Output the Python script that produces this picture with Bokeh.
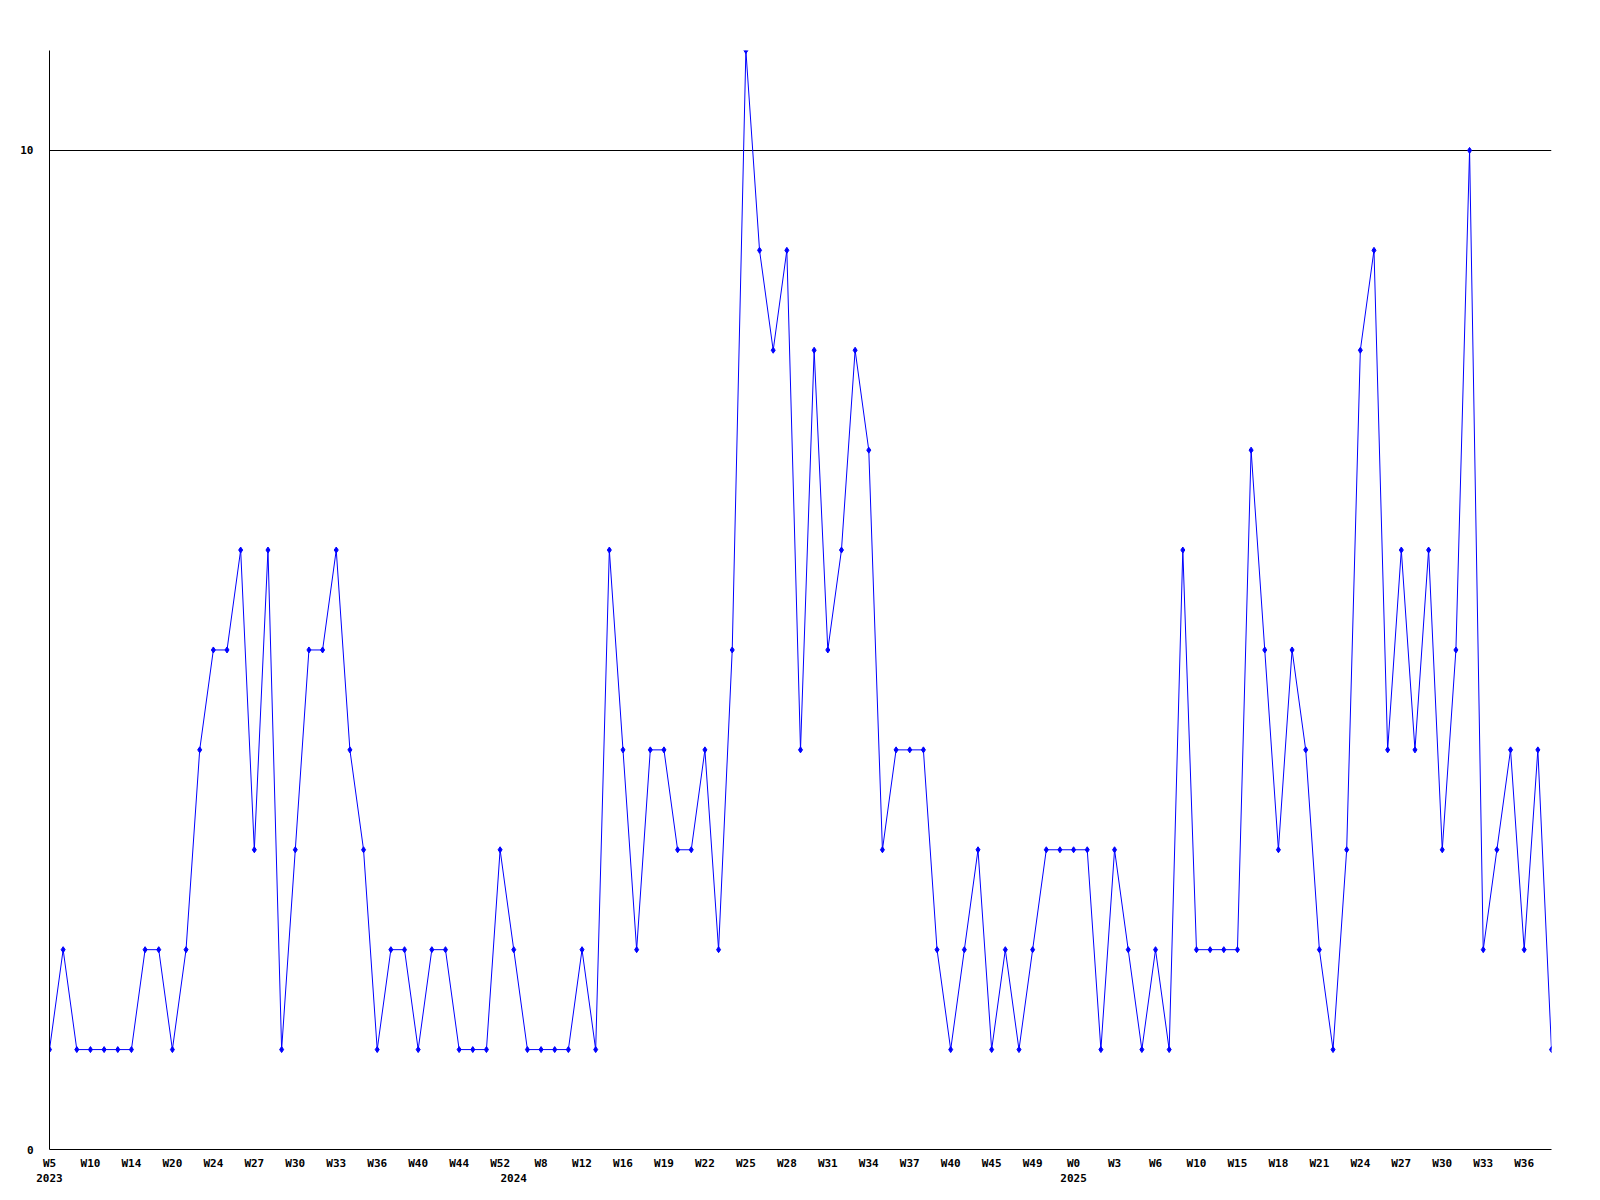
from bokeh.plotting import figure
from bokeh.models import Range1d, FixedTicker, LinearAxis, ColumnDataSource, Grid
from bokeh.embed import file_html
from bokeh.resources import INLINE

# Weekly counts (one value per point, equally spaced)
values = [1, 2, 1, 1, 1, 1, 1, 2, 2, 1,
          2, 4, 5, 5, 6, 3, 6, 1, 3, 5,
          5, 6, 4, 3, 1, 2, 2, 1, 2, 2,
          1, 1, 1, 3, 2, 1, 1, 1, 1, 2,
          1, 6, 4, 2, 4, 4, 3, 3, 4, 2,
          5, 11, 9, 8, 9, 4, 8, 5, 6, 8,
          7, 3, 4, 4, 4, 2, 1, 2, 3, 1,
          2, 1, 2, 3, 3, 3, 3, 1, 3, 2,
          1, 2, 1, 6, 2, 2, 2, 2, 7, 5,
          3, 5, 4, 2, 1, 3, 8, 9, 4, 6,
          4, 6, 3, 5, 10, 2, 3, 4, 2, 4,
          1]
idx = list(range(len(values)))

# Week tick labels (every third point)
week_labels = ["W5", "W10", "W14", "W20", "W24", "W27", "W30", "W33", "W36", "W40",
               "W44", "W52", "W8", "W12", "W16", "W19", "W22", "W25", "W28", "W31",
               "W34", "W37", "W40", "W45", "W49", "W0", "W3", "W6", "W10", "W15",
               "W18", "W21", "W24", "W27", "W30", "W33", "W36"]
week_ticks = [3 * k for k in range(len(week_labels))]

# Year labels and the point index where each year starts
years = ["2023", "2024", "2025"]
year_ticks = [0, 34, 75]

y_ticks = [0, 10]
grid_values = [10]

FONT = "DejaVu Sans Mono"

p = figure(width=1584, height=1184, output_backend="svg", toolbar_location=None,
           x_range=Range1d(0, len(values) - 1), y_range=Range1d(0, 11),
           min_border_left=49, min_border_right=33, min_border_top=50,
           min_border_bottom=34, x_axis_type=None, y_axis_type=None)
p.outline_line_color = None
p.background_fill_color = "white"
p.border_fill_color = "white"

src = ColumnDataSource(dict(x=idx, y=values))
p.line("x", "y", source=src, line_color="#0000ff", line_width=1)
p.scatter("x", "y", source=src, marker="diamond", size=6,
          fill_color="#0000ff", line_color="#0000ff")


def style_axis(ax, standoff):
    ax.major_tick_out = 0
    ax.major_tick_in = 0
    ax.minor_tick_out = 0
    ax.minor_tick_in = 0
    ax.major_label_standoff = standoff
    ax.major_label_text_font = FONT
    ax.major_label_text_font_style = "bold"
    ax.major_label_text_font_size = "11px"
    ax.major_label_text_color = "black"


# Y axis
yax = LinearAxis(ticker=FixedTicker(ticks=y_ticks))
style_axis(yax, 16)
yax.axis_line_color = "black"
p.add_layout(yax, "left")

# X axis with week labels
xax = LinearAxis(ticker=FixedTicker(ticks=week_ticks))
xax.major_label_overrides = {t: lab for t, lab in zip(week_ticks, week_labels)}
style_axis(xax, 7)
xax.axis_line_color = "black"
p.add_layout(xax, "below")

# Year axis
yrax = LinearAxis(ticker=FixedTicker(ticks=year_ticks))
yrax.major_label_overrides = {t: lab for t, lab in zip(year_ticks, years)}
style_axis(yrax, 1)
yrax.axis_line_color = None
p.add_layout(yrax, "below")

# Gridline at 10
g = Grid(dimension=1, ticker=FixedTicker(ticks=grid_values),
         grid_line_color="black", grid_line_width=1)
p.add_layout(g, "center")

open("out.html", "w").write(file_html(p, INLINE))
